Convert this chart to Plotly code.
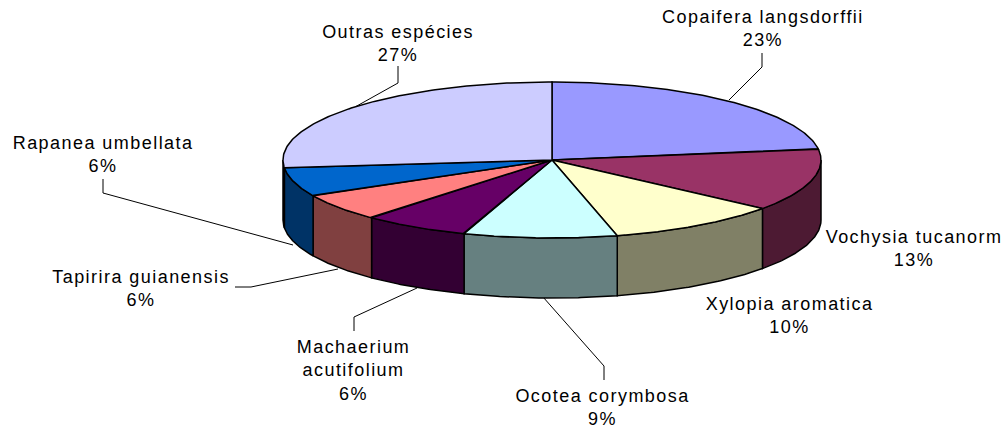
import numpy as np
import plotly.graph_objects as go

species = ["Copaifera langsdorffii", "Vochysia tucanorm", "Xylopia aromatica",
           "Ocotea corymbosa", "Machaerium<br>acutifolium", "Tapirira guianensis",
           "Rapanea umbellata", "Outras espécies"]
values = [22.7, 13.0, 10.4, 9.2, 6.4, 5.7, 6.0, 26.6]
top_colors = ["#9999FF", "#993366", "#FFFFCC", "#CCFFFF", "#660066", "#FF8080", "#0066CC", "#CCCCFF"]
wall_colors = ["#666699", "#4D1A33", "#808066", "#668080", "#330033", "#804040", "#003366", "#666680"]

# layout constants (pixels)
CX, CY, RX, RY, DEPTH = 552.0, 160.0, 269.0, 78.0, 60.0
label_pos = [(763, 28), (914, 248), (790, 315), (603, 407), (353, 370), (141, 288), (103, 154), (398, 43)]
leaders = [
    ([762, 762, 729], [53, 67, 100]),
    ([604, 604, 543], [380, 366, 297]),
    ([354, 354, 417], [331, 317, 288]),
    ([235, 251, 338], [287, 287, 269]),
    ([103, 103, 293], [179, 193, 245]),
    ([398, 398, 355], [66, 83, 107]),
]

fractions = np.cumsum([0] + values) / sum(values) * 2 * np.pi
fig = go.Figure()


def add_poly(x, y, color, width=1.5):
    fig.add_trace(go.Scatter(x=x, y=y, mode="lines", fill="toself", fillcolor=color,
                             line=dict(color="#000000", width=width), hoverinfo="skip", showlegend=False))


for xs, ys in leaders:
    fig.add_trace(go.Scatter(x=xs, y=ys, mode="lines", line=dict(color="#000000", width=1),
                             hoverinfo="skip", showlegend=False))

# front walls
for i in range(len(values)):
    a, b = max(fractions[i], np.pi / 2), min(fractions[i + 1], 3 * np.pi / 2)
    if b <= a:
        continue
    t = np.linspace(a, b, 60)
    ex, ey = CX + RX * np.sin(t), CY - RY * np.cos(t)
    add_poly(np.r_[ex, ex[::-1], ex[0]], np.r_[ey, ey[::-1] + DEPTH, ey[0]], wall_colors[i])

# top wedges
for i in range(len(values)):
    t = np.linspace(fractions[i], fractions[i + 1], 120)
    add_poly(np.r_[CX, CX + RX * np.sin(t), CX], np.r_[CY, CY - RY * np.cos(t), CY], top_colors[i])

for name, v, (lx, ly) in zip(species, values, label_pos):
    fig.add_annotation(x=lx, y=ly, xref="x", yref="y", text=f"{name}<br>{round(v)}%", showarrow=False,
                       xanchor="center", yanchor="middle", align="center",
                       font=dict(family="Liberation Sans, Arial, sans-serif", size=18, color="#000000"))

fig.update_layout(width=1006, height=430, margin=dict(l=0, r=0, t=0, b=0),
                  paper_bgcolor="#FFFFFF", plot_bgcolor="#FFFFFF", showlegend=False,
                  xaxis=dict(range=[0, 1006], visible=False, fixedrange=True),
                  yaxis=dict(range=[430, 0], visible=False, fixedrange=True))

fig.write_html("out.html", config={"displayModeBar": False}, post_script="""
document.querySelectorAll('.annotation-text').forEach(function(e){e.style.letterSpacing='1.45px';});
var s=document.createElement('style');s.textContent='html,body{margin:0;padding:0;overflow:hidden}';document.head.appendChild(s);
""")
